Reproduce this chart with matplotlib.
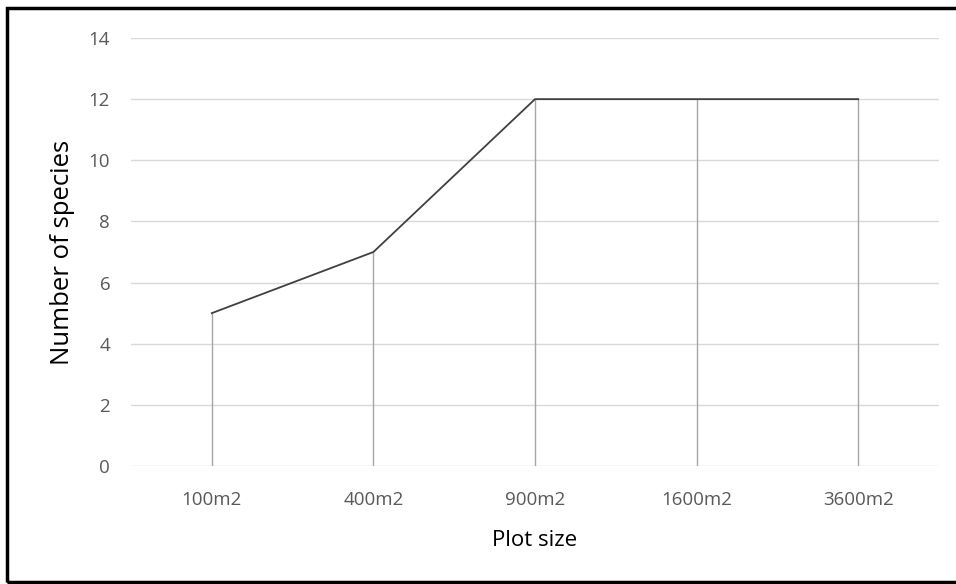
import numpy as np
import matplotlib.pyplot as plt
from matplotlib.patches import Rectangle

plt.rcParams['font.family'] = ['Open Sans', 'DejaVu Sans']

# Plot sizes and species counts
sizes = ['100m2', '400m2', '900m2', '1600m2', '3600m2']
species = [5, 7, 12, 12, 12]
yticks = [0, 2, 4, 6, 8, 10, 12, 14]

fig = plt.figure(figsize=(9.56, 5.84), dpi=100)
ax = fig.add_axes([131/956, 1-466/584, (939-131)/956, (466-38)/584])

x = np.arange(len(sizes))

# gridlines
for t in yticks:
    ax.axhline(t, color='#d9d9d9', lw=1, zorder=0)

# drop lines
ax.vlines(x, 0, species, color='#a6a6a6', lw=1, zorder=1)
ax.plot(x, species, color='#404040', lw=1.3, zorder=2)

ax.set_xlim(-0.5, 4.5)
ax.set_ylim(0, 14)
ax.set_xticks(x)
ax.set_xticklabels(sizes)
ax.set_yticks(yticks)
ax.tick_params(length=0, labelsize=13.5, colors='#595959')
ax.tick_params(axis='y', pad=15)
ax.tick_params(axis='x', pad=18)
for s in ax.spines.values():
    s.set_visible(False)

ax.set_ylabel('Number of species', fontsize=18.5, color='black', labelpad=10)
ax.set_xlabel('Plot size', fontsize=16, color='black', labelpad=15)

# outer border
fig.patches.append(Rectangle((7/956, 1-582/584), 1.0, (582-8)/584,
                             transform=fig.transFigure, fill=False,
                             edgecolor='black', lw=2.5))

fig.savefig('out.png', dpi=100)
